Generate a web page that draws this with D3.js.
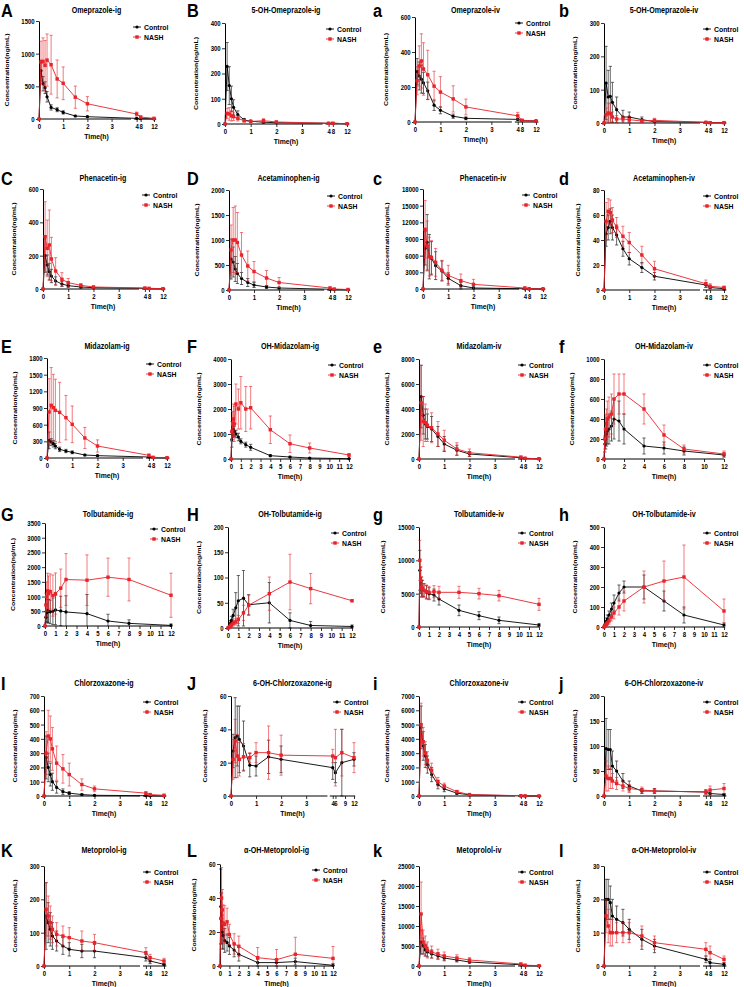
<!DOCTYPE html>
<html><head><meta charset="utf-8">
<script src="https://cdn.jsdelivr.net/npm/d3@7"></script>
<style>
body{margin:0;background:#fff}
text{font-family:"Liberation Sans",Arial,sans-serif;font-weight:bold;fill:#000}
</style>
</head><body>
<svg id="chart" width="744" height="987"></svg>
<script>
// ---------- time points ----------
const tBrk = [0, 0.083, 0.167, 0.25, 0.333, 0.5, 0.75, 1, 1.5, 2, 4, 8, 12];
const tLin = [0, 0.083, 0.167, 0.25, 0.333, 0.5, 0.75, 1, 1.5, 2, 4, 6, 8, 12];
const xTicksBrk = [0, 1, 2, 3, 4, 8, 12];
const xTicksLin1 = [0,1,2,3,4,5,6,7,8,9,10,11,12];
const xTicksLin2 = [0,2,4,6,8,10,12];
const xTicksJ = [0, 1, 2, 3, 4, 6, 9, 12];

// ---------- A Omeprazole-ig ----------
const pA_y = [0, 500, 1000, 1500];
const pA_ctl = [0, 740, 540, 480, 340, 177, 142, 101, 46, 35, 10, 5, 1];
const pA_ctlSD = [0, 160, 110, 90, 80, 40, 30, 25, 12, 8, 5, 3, 1];
const pA_nash = [0, 872, 882, 821, 902, 831, 613, 547, 334, 233, 76, 30, 10];
const pA_nashSD = [0, 320, 360, 380, 400, 450, 290, 250, 170, 110, 30, 15, 5];
// ---------- B 5-OH-Omeprazole-ig ----------
const pB_y = [0, 100, 200, 300, 400];
const pB_ctl = [0, 228, 152, 100, 66, 37, 16, 11, 7, 5, 3, 3, 1];
const pB_ctlSD = [0, 95, 75, 50, 30, 15, 6, 4, 3, 3, 2, 2, 1];
const pB_nash = [0, 42, 40, 32, 29, 22, 13, 10, 13, 8, 3, 3, 1];
const pB_nashSD = [0, 20, 25, 20, 15, 10, 5, 4, 8, 4, 2, 2, 1];
// ---------- a Omeprazole-iv ----------
const pa_y = [0, 200, 400, 600];
const pa_ctl = [0, 288, 263, 245, 224, 178, 96, 67, 33, 21, 15, 8, 6];
const pa_ctlSD = [0, 75, 80, 80, 60, 50, 30, 20, 12, 8, 5, 3, 2];
const pa_nash = [0, 236, 320, 349, 303, 270, 205, 171, 132, 86, 35, 10, 6];
const pa_nashSD = [0, 80, 115, 155, 150, 140, 85, 88, 75, 45, 20, 5, 3];
// ---------- b 5-OH-Omeprazole-iv ----------
const pb_y = [0, 100, 200, 300];
const pb_ctl = [0, 120, 78, 80, 62, 40, 18, 18, 10, 4, 2, 1, 1];
const pb_ctlSD = [0, 110, 80, 90, 60, 38, 20, 15, 8, 6, 2, 1, 1];
const pb_nash = [0, 25, 30, 28, 18, 12, 12, 10, 6, 8, 2, 1, 1];
const pb_nashSD = [0, 20, 30, 30, 15, 10, 8, 10, 5, 6, 2, 1, 1];
// ---------- C Phenacetin-ig ----------
const pC_y = [0, 200, 400, 600];
const pC_ctl = [0, 200, 144, 104, 78, 48, 30, 20, 12, 8, 4, 2, 1];
const pC_ctlSD = [0, 100, 60, 50, 40, 25, 15, 10, 6, 4, 2, 1, 1];
const pC_nash = [0, 314, 244, 264, 180, 108, 58, 38, 22, 12, 6, 4, 2];
const pC_nashSD = [0, 210, 170, 210, 130, 80, 40, 25, 10, 6, 3, 2, 1];
// ---------- D Acetaminophen-ig ----------
const pD_y = [0, 500, 1000, 1500, 2000];
const pD_ctl = [0, 620, 560, 420, 330, 230, 150, 100, 60, 40, 15, 8, 5];
const pD_ctlSD = [0, 400, 300, 250, 200, 120, 80, 50, 30, 20, 8, 4, 2];
const pD_nash = [0, 800, 1000, 1000, 950, 700, 480, 370, 240, 150, 40, 20, 10];
const pD_nashSD = [0, 500, 650, 680, 600, 450, 300, 200, 150, 100, 20, 10, 5];
// ---------- c Phenacetin-iv ----------
const pc_y = [0, 3000, 6000, 9000, 12000, 15000, 18000];
const pc_ctl = [0, 7320, 8400, 5820, 5520, 4200, 3240, 1920, 600, 180, 40, 20, 10];
const pc_ctlSD = [0, 3000, 5000, 4000, 3000, 2500, 1800, 1000, 600, 300, 50, 20, 10];
const pc_nash = [0, 10740, 7740, 5820, 5700, 4800, 3360, 2460, 1500, 840, 180, 60, 20];
const pc_nashSD = [0, 5200, 4500, 3500, 3000, 2500, 1800, 1800, 1200, 900, 200, 50, 20];
// ---------- d Acetaminophen-iv ----------
const pd_y = [0, 20, 40, 60, 80];
const pd_ctl = [0, 45, 50, 55, 50, 44, 33, 25, 18, 11, 4, 2, 1];
const pd_ctlSD = [0, 10, 10, 10, 10, 8, 6, 5, 4, 3, 2, 1, 1];
const pd_nash = [0, 55, 63, 62, 56, 50, 43, 38, 28, 17, 5, 3, 2];
const pd_nashSD = [0, 15, 10, 10, 10, 8, 8, 8, 7, 6, 3, 2, 1];
// ---------- E Midazolam-ig ----------
const pE_y = [0, 300, 600, 900, 1200, 1500, 1800];
const pE_ctl = [0, 318, 288, 258, 216, 156, 126, 102, 54, 42, 18, 6, 2];
const pE_ctlSD = [0, 150, 60, 60, 50, 40, 30, 25, 15, 10, 5, 2, 1];
const pE_nash = [0, 828, 948, 906, 858, 822, 726, 606, 360, 216, 48, 12, 6];
const pE_nashSD = [0, 600, 680, 600, 560, 540, 400, 330, 190, 110, 20, 6, 3];
// ---------- F OH-Midazolam-ig ----------
const pF_y = [0, 1000, 2000, 3000, 4000];
const pF_ctl = [0, 773, 1107, 1173, 1107, 1000, 880, 707, 573, 467, 133, 80, 40, 13];
const pF_ctlSD = [0, 300, 250, 250, 200, 150, 150, 100, 100, 120, 40, 30, 15, 5];
const pF_nash = [0, 1100, 1400, 1600, 1400, 2200, 2000, 2250, 2000, 2050, 1170, 610, 440, 160];
const pF_nashSD = [0, 400, 500, 600, 700, 800, 800, 1050, 900, 850, 550, 350, 200, 50];
// ---------- e Midazolam-iv ----------
const pe_y = [0, 2000, 4000, 6000, 8000];
const pe_ctl = [0, 5000, 3500, 2800, 2600, 2400, 1800, 1200, 700, 400, 100, 50, 20];
const pe_ctlSD = [0, 2500, 1500, 1200, 1000, 1000, 800, 600, 400, 200, 50, 20, 10];
const pe_nash = [0, 4500, 3000, 2900, 2700, 2500, 2000, 1500, 800, 500, 150, 60, 20];
const pe_nashSD = [0, 3000, 2000, 1500, 1300, 1200, 1000, 800, 500, 300, 80, 30, 10];
// ---------- f OH-Midazolam-iv ----------
const pf_y = [0, 200, 400, 600, 800, 1000];
const pf_ctl = [0, 150, 200, 250, 280, 300, 330, 400, 380, 300, 130, 110, 80, 40];
const pf_ctlSD = [0, 80, 100, 120, 130, 150, 150, 200, 200, 150, 80, 60, 40, 20];
const pf_nash = [0, 200, 300, 350, 400, 420, 450, 600, 650, 650, 500, 240, 100, 50];
const pf_nashSD = [0, 100, 150, 150, 180, 200, 200, 250, 200, 200, 150, 100, 40, 30];
// ---------- G Tolbutamide-ig ----------
const pG_y = [0, 500, 1000, 1500, 2000, 2500, 3000, 3500];
const pG_ctl = [0, 300, 450, 520, 500, 480, 500, 545, 511, 477, 420, 170, 90, 20];
const pG_ctlSD = [0, 200, 300, 400, 400, 400, 450, 500, 500, 550, 650, 230, 120, 50];
const pG_nash = [0, 716, 1000, 1193, 1100, 1170, 1034, 1102, 1284, 1580, 1557, 1659, 1580, 1045];
const pG_nashSD = [0, 400, 500, 600, 600, 600, 700, 700, 650, 880, 860, 650, 730, 750];
// ---------- H OH-Tolbutamide-ig ----------
const pH_y = [0, 50, 100, 150, 200];
const pH_ctl = [0, 2, 5, 10, 15, 25, 40, 54, 59, 46, 50, 15, 5, 3];
const pH_ctlSD = [0, 1, 3, 5, 8, 12, 30, 50, 55, 20, 40, 15, 8, 3];
const pH_nash = [0, 1, 2, 4, 6, 9, 12, 17, 30, 45, 68, 91, 78, 54];
const pH_nashSD = [0, 1, 2, 3, 4, 5, 6, 8, 15, 20, 33, 55, 30, 2];
// ---------- g Tolbutamide-iv ----------
const pg_y = [0, 5000, 10000, 15000];
const pg_ctl = [0, 8500, 7000, 6000, 5800, 5500, 5200, 5000, 4800, 4200, 2500, 1700, 1000, 300];
const pg_ctlSD = [0, 3000, 2000, 1500, 1200, 1000, 1000, 900, 900, 900, 800, 600, 500, 200];
const pg_nash = [0, 10000, 7000, 6000, 5800, 5500, 5300, 5200, 5300, 5200, 5200, 5000, 4700, 3400];
const pg_nashSD = [0, 3000, 2000, 1500, 1200, 1000, 1000, 900, 900, 900, 900, 800, 800, 900];
// ---------- h OH-Tolbutamide-iv ----------
const ph_y = [0, 100, 200, 300, 400, 500];
const ph_ctl = [0, 10, 20, 30, 40, 60, 90, 120, 170, 200, 200, 130, 60, 10];
const ph_ctlSD = [0, 5, 10, 15, 20, 20, 30, 40, 40, 30, 60, 50, 40, 10];
const ph_nash = [0, 5, 10, 15, 20, 30, 50, 70, 100, 130, 200, 230, 250, 80];
const ph_nashSD = [0, 3, 5, 8, 10, 15, 20, 30, 40, 50, 80, 100, 160, 60];
// ---------- I Chlorzoxazone-ig ----------
const pI_y = [0, 100, 200, 300, 400, 500, 600, 700];
const pI_ctl = [0, 270, 200, 150, 100, 60, 30, 20, 10, 5, 2, 1, 0];
const pI_ctlSD = [0, 150, 100, 80, 60, 40, 20, 10, 5, 3, 1, 1, 0];
const pI_nash = [0, 300, 420, 400, 330, 230, 190, 150, 80, 50, 20, 10, 5];
const pI_nashSD = [0, 150, 180, 160, 150, 120, 100, 80, 40, 20, 10, 5, 3];
// ---------- J 6-OH-Chlorzoxazone-ig ----------
const pJ_y = [0, 20, 40, 60];
const pJ_ctl = [0, 27, 35, 36, 34, 30, 18.5, 18, 23.5, 22, 17, 14, 20, 22];
const pJ_ctlSD = [0, 10, 24, 18, 20, 15, 7, 6, 10, 8, 7, 6, 20, 4];
const pJ_nash = [0, 22, 33, 24, 22, 23.5, 23, 26, 26, 24.5, 24, 23, 26, 23];
const pJ_nashSD = [0, 12, 13, 13, 10, 8, 3, 6, 16, 12, 4, 17, 14, 9];
// ---------- i Chlorzoxazone-iv ----------
const pi_y = [0, 1000, 2000, 3000, 4000, 5000, 6000, 7000];
const pi_ctl = [0, 4800, 3500, 2800, 2200, 1500, 800, 500, 200, 80, 10, 5, 0];
const pi_ctlSD = [0, 1500, 1000, 800, 600, 500, 300, 200, 100, 50, 5, 3, 0];
const pi_nash = [0, 5000, 3800, 3000, 2500, 1800, 1000, 700, 300, 100, 20, 5, 0];
const pi_nashSD = [0, 1500, 1000, 800, 600, 500, 300, 200, 100, 50, 10, 3, 0];
// ---------- j 6-OH-Chlorzoxazone-iv ----------
const pj_y = [0, 50, 100, 150, 200];
const pj_ctl = [0, 95, 93, 93, 60, 50, 30, 20, 10, 10, 8, 5, 3];
const pj_ctlSD = [0, 60, 40, 40, 30, 20, 15, 10, 5, 5, 4, 3, 2];
const pj_nash = [0, 40, 35, 35, 30, 25, 20, 15, 12, 10, 8, 12, 15];
const pj_nashSD = [0, 30, 25, 20, 15, 12, 10, 8, 6, 5, 5, 8, 10];
// ---------- K Metoprolol-ig ----------
const pK_y = [0, 100, 200, 300];
const pK_ctl = [0, 150, 130, 110, 90, 75, 60, 50, 45, 45, 25, 15, 5];
const pK_ctlSD = [0, 100, 60, 50, 40, 30, 25, 20, 20, 20, 10, 8, 3];
const pK_nash = [0, 170, 150, 130, 110, 95, 90, 85, 75, 70, 40, 25, 15];
const pK_nashSD = [0, 80, 60, 50, 40, 35, 30, 30, 30, 25, 15, 10, 8];
// ---------- L α-OH-Metoprolol-ig ----------
const pL_y = [0, 20, 40, 60];
const pL_ctl = [0, 35, 28, 20, 18, 15, 13.8, 11.8, 9.4, 6.9, 2, 2, 2.6, 0.4];
const pL_ctlSD = [0, 22, 15, 10, 8, 7, 5, 5, 4, 4, 2, 2, 2, 1];
const pL_nash = [0, 28, 40, 33, 25, 24.5, 26, 18.5, 13, 11.6, 4.9, 3.7, 6.9, 4.5];
const pL_nashSD = [0, 15, 18, 12, 11, 11, 8, 6, 6, 6, 6, 6, 10, 7];
// ---------- k Metoprolol-iv ----------
const pk_y = [0, 5000, 10000, 15000, 20000, 25000];
const pk_ctl = [0, 6000, 5000, 4000, 3500, 3000, 2500, 2000, 1500, 1000, 300, 100, 50];
const pk_ctlSD = [0, 3000, 2000, 1500, 1200, 1000, 800, 700, 500, 300, 100, 50, 20];
const pk_nash = [0, 13000, 6000, 5000, 4000, 3500, 3000, 2500, 2000, 1500, 500, 200, 80];
const pk_nashSD = [0, 8000, 3000, 2500, 2000, 1500, 1200, 1000, 800, 600, 200, 80, 30];
// ---------- l α-OH-Metoprolol-iv ----------
const pl_y = [0, 10, 20, 30];
const pl_ctl = [0, 20, 20, 19, 15, 14, 13, 11, 8, 6, 2, 1, 0.5];
const pl_ctlSD = [0, 6, 6, 5, 5, 4, 4, 3, 3, 2, 1, 1, 0.5];
const pl_nash = [0, 15, 12, 10, 10, 10, 10, 10, 9, 7, 5, 4, 2];
const pl_nashSD = [0, 5, 5, 4, 4, 3, 3, 3, 3, 2, 2, 2, 1];

const legendNames = ["Control", "NASH"];

// ---------- panel table ----------
const panels = [
  {id:"A", r:0,c:0, title:"Omeprazole-ig", xs:"brk", t:tBrk, y:pA_y, ctl:pA_ctl, cs:pA_ctlSD, n:pA_nash, ns:pA_nashSD},
  {id:"B", r:0,c:1, title:"5-OH-Omeprazole-ig", xs:"brk", t:tBrk, y:pB_y, ctl:pB_ctl, cs:pB_ctlSD, n:pB_nash, ns:pB_nashSD},
  {id:"a", r:0,c:2, title:"Omeprazole-iv", xs:"brk", t:tBrk, y:pa_y, ctl:pa_ctl, cs:pa_ctlSD, n:pa_nash, ns:pa_nashSD},
  {id:"b", r:0,c:3, title:"5-OH-Omeprazole-iv", xs:"brk", t:tBrk, y:pb_y, ctl:pb_ctl, cs:pb_ctlSD, n:pb_nash, ns:pb_nashSD},
  {id:"C", r:1,c:0, title:"Phenacetin-ig", xs:"brk", t:tBrk, y:pC_y, ctl:pC_ctl, cs:pC_ctlSD, n:pC_nash, ns:pC_nashSD},
  {id:"D", r:1,c:1, title:"Acetaminophen-ig", xs:"brk", t:tBrk, y:pD_y, ctl:pD_ctl, cs:pD_ctlSD, n:pD_nash, ns:pD_nashSD},
  {id:"c", r:1,c:2, title:"Phenacetin-iv", xs:"brk", t:tBrk, y:pc_y, ctl:pc_ctl, cs:pc_ctlSD, n:pc_nash, ns:pc_nashSD},
  {id:"d", r:1,c:3, title:"Acetaminophen-iv", xs:"brk", t:tBrk, y:pd_y, ctl:pd_ctl, cs:pd_ctlSD, n:pd_nash, ns:pd_nashSD},
  {id:"E", r:2,c:0, title:"Midazolam-ig", xs:"brk", t:tBrk, y:pE_y, ctl:pE_ctl, cs:pE_ctlSD, n:pE_nash, ns:pE_nashSD},
  {id:"F", r:2,c:1, title:"OH-Midazolam-ig", xs:"lin1", t:tLin, y:pF_y, ctl:pF_ctl, cs:pF_ctlSD, n:pF_nash, ns:pF_nashSD},
  {id:"e", r:2,c:2, title:"Midazolam-iv", xs:"brk", t:tBrk, y:pe_y, ctl:pe_ctl, cs:pe_ctlSD, n:pe_nash, ns:pe_nashSD},
  {id:"f", r:2,c:3, title:"OH-Midazolam-iv", xs:"lin2", t:tLin, y:pf_y, ctl:pf_ctl, cs:pf_ctlSD, n:pf_nash, ns:pf_nashSD},
  {id:"G", r:3,c:0, title:"Tolbutamide-ig", xs:"lin1", t:tLin, y:pG_y, ctl:pG_ctl, cs:pG_ctlSD, n:pG_nash, ns:pG_nashSD},
  {id:"H", r:3,c:1, title:"OH-Tolbutamide-ig", xs:"lin1", t:tLin, y:pH_y, ctl:pH_ctl, cs:pH_ctlSD, n:pH_nash, ns:pH_nashSD},
  {id:"g", r:3,c:2, title:"Tolbutamide-iv", xs:"lin1", t:tLin, y:pg_y, ctl:pg_ctl, cs:pg_ctlSD, n:pg_nash, ns:pg_nashSD},
  {id:"h", r:3,c:3, title:"OH-Tolbutamide-iv", xs:"lin1", t:tLin, y:ph_y, ctl:ph_ctl, cs:ph_ctlSD, n:ph_nash, ns:ph_nashSD},
  {id:"I", r:4,c:0, title:"Chlorzoxazone-ig", xs:"brk", t:tBrk, y:pI_y, ctl:pI_ctl, cs:pI_ctlSD, n:pI_nash, ns:pI_nashSD},
  {id:"J", r:4,c:1, title:"6-OH-Chlorzoxazone-ig", xs:"brkJ", t:tLin, y:pJ_y, ctl:pJ_ctl, cs:pJ_ctlSD, n:pJ_nash, ns:pJ_nashSD},
  {id:"i", r:4,c:2, title:"Chlorzoxazone-iv", xs:"brk", t:tBrk, y:pi_y, ctl:pi_ctl, cs:pi_ctlSD, n:pi_nash, ns:pi_nashSD},
  {id:"j", r:4,c:3, title:"6-OH-Chlorzoxazone-iv", xs:"brk", t:tBrk, y:pj_y, ctl:pj_ctl, cs:pj_ctlSD, n:pj_nash, ns:pj_nashSD},
  {id:"K", r:5,c:0, title:"Metoprolol-ig", xs:"brk", t:tBrk, y:pK_y, ctl:pK_ctl, cs:pK_ctlSD, n:pK_nash, ns:pK_nashSD},
  {id:"L", r:5,c:1, title:"α-OH-Metoprolol-ig", xs:"lin1", t:tLin, y:pL_y, ctl:pL_ctl, cs:pL_ctlSD, n:pL_nash, ns:pL_nashSD},
  {id:"k", r:5,c:2, title:"Metoprolol-iv", xs:"brk", t:tBrk, y:pk_y, ctl:pk_ctl, cs:pk_ctlSD, n:pk_nash, ns:pk_nashSD},
  {id:"l", r:5,c:3, title:"α-OH-Metoprolol-iv", xs:"brk", t:tBrk, y:pl_y, ctl:pl_ctl, cs:pl_ctlSD, n:pl_nash, ns:pl_nashSD}
];

// ---------- layout (pixels, separate from data) ----------
const colX0 = [0, 186, 372, 558];
const colL = [44, 229, 419, 604], colR = [164, 348, 539, 724];
const rowB = [121, 290, 459, 627, 796, 966];
const rowTitle = [13, 181, 349, 517, 686, 853];
const PH = 100;
const xOver = {A:[39,154], C:[43,163], E:[47,167], G:[45,171], B:[225,347], F:[231,349], H:[228,352], J:[231,354], L:[220,333], a:[415,536], c:[423,543], b:[604,724]};
const yOver = {A:[21,119], B:[23,124], a:[17,122], b:[23,123], C:[189,289], c:[189,289], E:[358,458], F:[359,459], G:[523,626], H:[527,628], J:[696,796], L:[864,966]};

const SX = 0.86;
const RED = "#e8232a";
const svg = d3.select("#chart");

function txt(g, x, y, s, size, anchor, rot) {
  return g.append("text").text(s)
    .attr("font-size", size)
    .attr("text-anchor", anchor || "start")
    .attr("transform", `translate(${x},${y}) scale(${SX},1)` + (rot ? " rotate(-90)" : ""));
}

panels.forEach(p => {
  const [L, R] = xOver[p.id] || [colL[p.c], colR[p.c]];
  const [T, B] = yOver[p.id] || [rowB[p.r] - PH, rowB[p.r]];
  const W = R - L;
  let x, xt, segs;
  if (p.xs === "brk") {
    x = d3.scaleLinear().domain([0, 3, 4, 8, 12]).range([0, .631, .849, .884, 1].map(f => L + f * W));
    xt = xTicksBrk; segs = [[0, .80], [.825, 1.02]];
  } else if (p.xs === "brkJ") {
    x = d3.scaleLinear().domain([0, 3, 4, 6, 9, 12]).range([0, .611, .827, .849, .927, 1].map(f => L + f * W));
    xt = xTicksJ; segs = [[0, .784], [.803, 1.01]];
  } else {
    x = d3.scaleLinear().domain([0, 12]).range([L, R]);
    xt = p.xs === "lin2" ? xTicksLin2 : xTicksLin1; segs = [[0, 1]];
  }
  const yMax = d3.max(p.y);
  const y = d3.scaleLinear().domain([0, yMax]).range([B, T]);
  const g = svg.append("g");

  // y axis
  const ya = g.append("g").attr("transform", `translate(${L},0)`)
    .call(d3.axisLeft(y).tickValues(p.y).tickSize(3).tickSizeOuter(0).tickPadding(2).tickFormat(d3.format("d")));
  ya.select(".domain").attr("stroke", "#000").attr("stroke-width", 1);
  ya.selectAll(".tick line").attr("stroke", "#000").attr("stroke-width", 0.8);
  ya.selectAll(".tick text").attr("font-size", 7).attr("font-family", null)
    .attr("transform", `scale(${SX},1)`).attr("dy", "0.35em");
  ya.attr("font-family", null).attr("font-size", null);

  // x axis
  const xa = g.append("g").attr("transform", `translate(0,${B})`)
    .call(d3.axisBottom(x).tickValues(xt).tickSize(3).tickSizeOuter(0).tickPadding(2).tickFormat(d3.format("d")));
  xa.select(".domain").remove();
  xa.attr("font-family", null).attr("font-size", null);
  xa.selectAll(".tick line").attr("stroke", "#000").attr("stroke-width", 0.8);
  xa.selectAll(".tick text").attr("font-size", 7).attr("transform", `scale(${SX},1)`);
  segs.forEach(s => {
    xa.append("line").attr("x1", L + s[0] * W).attr("x2", L + s[1] * W)
      .attr("y1", 0).attr("y2", 0).attr("stroke", "#000").attr("stroke-width", 1);
  });

  // series
  const series = [
    {v: p.ctl, sd: p.cs, col: "#000", shape: "circle"},
    {v: p.n, sd: p.ns, col: RED, shape: "square"}
  ];
  series.forEach(s => {
    const pts = p.t.map((t, i) => ({t, v: s.v[i], sd: s.sd[i]}));
    const eb = g.append("g").attr("stroke", s.col).attr("stroke-width", 0.7).attr("opacity", 0.85);
    pts.filter(d => d.sd > 0).forEach(d => {
      const xx = x(d.t);
      const y1 = y(Math.min(yMax, d.v + d.sd)), y0 = y(Math.max(0, d.v - d.sd));
      eb.append("line").attr("x1", xx).attr("x2", xx).attr("y1", y0).attr("y2", y1);
      if (d.v + d.sd <= yMax) eb.append("line").attr("x1", xx - 1.6).attr("x2", xx + 1.6).attr("y1", y1).attr("y2", y1);
      if (d.v - d.sd >= 0) eb.append("line").attr("x1", xx - 1.6).attr("x2", xx + 1.6).attr("y1", y0).attr("y2", y0);
    });
    g.append("path").datum(pts)
      .attr("d", d3.line().x(d => x(d.t)).y(d => y(d.v)))
      .attr("fill", "none").attr("stroke", s.col).attr("stroke-width", 0.9);
    if (s.shape === "circle") {
      g.append("g").selectAll("circle").data(pts).join("circle")
        .attr("cx", d => x(d.t)).attr("cy", d => y(d.v)).attr("r", 1.6).attr("fill", s.col);
    } else {
      g.append("g").selectAll("rect").data(pts).join("rect")
        .attr("x", d => x(d.t) - 1.7).attr("y", d => y(d.v) - 1.7)
        .attr("width", 3.4).attr("height", 3.4).attr("fill", s.col);
    }
  });

  // titles & labels
  const tb = rowTitle[p.r];
  txt(g, (L + R) / 2, tb, p.title, 8.3, "middle");
  txt(g, colX0[p.c] + 1, tb + 4, p.id, 19, "start");
  txt(g, (L + R) / 2, B + 20, "Time(h)", 8, "middle");
  const maxLab = d3.max(p.y, v => String(v).length) * 7 * 0.556 * SX;
  txt(g, L - maxLab - 17, (T + B) / 2, "Concentration(ng/mL)", 7, "middle", true);

  // legend
  const mx = R - 17;
  [0, 1].forEach(k => {
    const ly = T + 6 + k * 10;
    const col = k === 0 ? "#000" : RED;
    g.append("line").attr("x1", mx - 4).attr("x2", mx + 4).attr("y1", ly).attr("y2", ly)
      .attr("stroke", col).attr("stroke-width", 0.9);
    if (k === 0) g.append("circle").attr("cx", mx).attr("cy", ly).attr("r", 1.6).attr("fill", col);
    else g.append("rect").attr("x", mx - 1.7).attr("y", ly - 1.7).attr("width", 3.4).attr("height", 3.4).attr("fill", col);
    txt(g, mx + 7, ly + 2.8, legendNames[k], 8, "start");
  });
});
</script>
</body></html>
